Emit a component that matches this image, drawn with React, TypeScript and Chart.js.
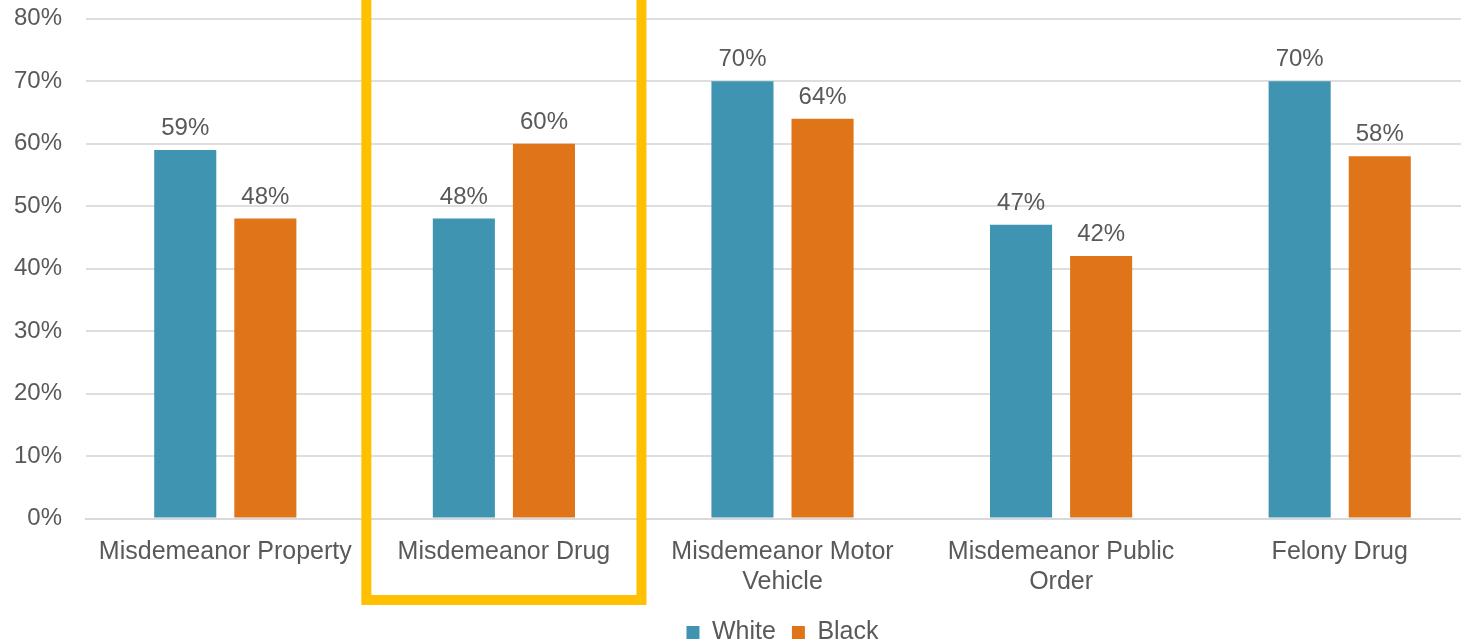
import React, { useEffect, useRef } from "react";
import { Chart, registerables } from "chart.js";

Chart.register(...registerables);

const categories: (string | string[])[] = [
  "Misdemeanor Property",
  "Misdemeanor Drug",
  ["Misdemeanor Motor", "Vehicle"],
  ["Misdemeanor Public", "Order"],
  "Felony Drug",
];
const seriesNames = ["White", "Black"];
const whiteValues = [59, 48, 70, 47, 70];
const blackValues = [48, 60, 64, 42, 58];
const yMin = 0;
const yMax = 80;
const yStep = 10;
const highlightIndex = 1;

const FONT = '"Liberation Sans", Arial, sans-serif';
const TEXT = "#595959";
const WHITE_COLOR = "#3E94B1";
const BLACK_COLOR = "#E07419";

const barLabelPlugin = {
  id: "barLabels",
  afterDatasetsDraw(chart: any) {
    const ctx = chart.ctx;
    ctx.save();
    ctx.font = `24px ${FONT}`;
    ctx.fillStyle = TEXT;
    ctx.textAlign = "center";
    ctx.textBaseline = "alphabetic";
    chart.data.datasets.forEach((ds: any, di: number) => {
      const meta = chart.getDatasetMeta(di);
      meta.data.forEach((el: any, i: number) => {
        ctx.fillText(ds.data[i] + "%", el.x, el.y - 15);
      });
    });
    ctx.restore();
  },
};

const highlightPlugin = {
  id: "highlight",
  afterDraw(chart: any) {
    const x = chart.scales.x;
    const cw = x.width / categories.length;
    const cx = x.getPixelForValue(highlightIndex);
    const half = cw / 2 - 1.75;
    const bottom = chart.chartArea.bottom + 81.5;
    const ctx = chart.ctx;
    ctx.save();
    ctx.strokeStyle = "#FFC000";
    ctx.lineWidth = 10;
    ctx.strokeRect(cx - half, -30, half * 2, bottom + 30);
    ctx.restore();
  },
};

export default function App() {
  const ref = useRef<HTMLCanvasElement>(null);
  useEffect(() => {
    if (!ref.current) return;
    const chart = new Chart(ref.current, {
      type: "bar",
      data: {
        labels: categories,
        datasets: [
          {
            label: seriesNames[0],
            data: whiteValues,
            backgroundColor: WHITE_COLOR,
            categoryPercentage: 0.575,
            barPercentage: 0.775,
          },
          {
            label: seriesNames[1],
            data: blackValues,
            backgroundColor: BLACK_COLOR,
            categoryPercentage: 0.575,
            barPercentage: 0.775,
          },
        ],
      },
      options: {
        responsive: false,
        animation: false,
        devicePixelRatio: 1,
        layout: { padding: { top: 18.7, right: 0, left: 0, bottom: 0 } },
        font: { family: FONT, size: 24 },
        plugins: {
          tooltip: { enabled: false },
          legend: {
            position: "bottom",
            fullSize: false,
            labels: {
              font: { family: FONT, size: 25 },
              color: TEXT,
              boxWidth: 13,
              boxHeight: 13,
              padding: 16,
            },
          },
        },
        scales: {
          x: {
            grid: { display: false },
            border: { display: true, color: "#D9D9D9", width: 2 },
            ticks: {
              font: { family: FONT, size: 25, lineHeight: 1.2 },
              color: TEXT,
              padding: 11,
              maxRotation: 0,
              autoSkip: false,
            },
            afterFit(scale: any) {
              scale.height = 85.5;
            },
          },
          y: {
            min: yMin,
            max: yMax,
            grid: {
              color: "#DEDEDE",
              lineWidth: 2,
              drawTicks: true,
              tickLength: 24,
              tickColor: "rgba(0,0,0,0)",
            },
            border: { display: false },
            ticks: {
              stepSize: yStep,
              font: { family: FONT, size: 24 },
              color: TEXT,
              padding: 0,
              callback: (v: any) => v + "%",
            },
            afterFit(scale: any) {
              scale.width = 86;
            },
          },
        },
      },
      plugins: [barLabelPlugin, highlightPlugin],
    });
    return () => chart.destroy();
  }, []);
  return (
    <div
      style={{
        position: "fixed",
        left: 0,
        top: 0,
        width: 1461,
        height: 642,
        overflow: "hidden",
        background: "#fff",
      }}
    >
      <canvas ref={ref} width={1479} height={655.5} style={{ display: "block" }} />
    </div>
  );
}
